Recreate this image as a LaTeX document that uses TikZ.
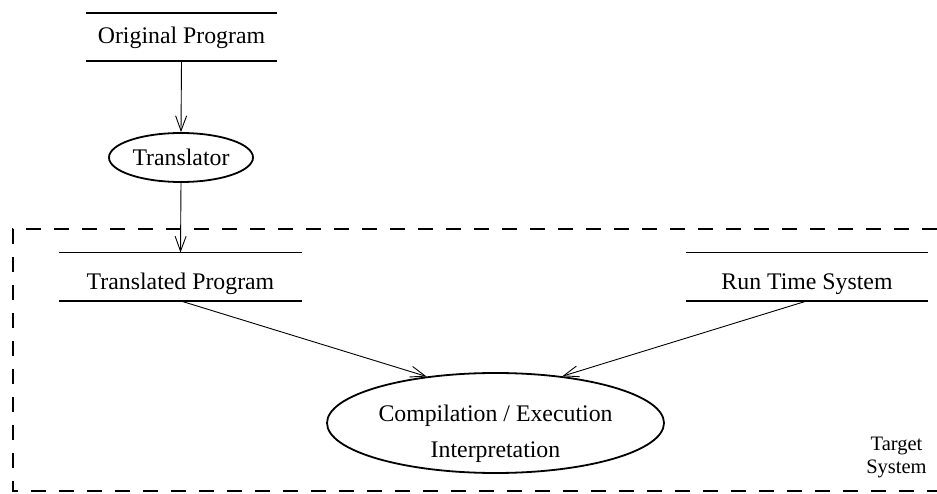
\documentclass[tikz,border=0pt]{standalone}
\usepackage{fontspec}
\setmainfont{Liberation Serif}
\usetikzlibrary{shapes.geometric,arrows.meta}
\begin{document}
\begin{tikzpicture}[x=1pt,y=-1pt,
  every node/.style={font=\fontsize{23.8}{36}\selectfont, inner sep=0pt},
  % data store: text between two horizontal bars
  store/.style={minimum height=48pt, text height=#1, text depth=0pt},
  storebar/.style={line width=1.8pt},
  process/.style={draw, ellipse, line width=1.8pt},
  flow/.style={line width=0.9pt, -{Straight Barb[length=15pt,width=11pt]}},
  boundary/.style={line width=1.8pt, dash pattern=on 15pt off 13pt},
  ]
\useasboundingbox (0,0) rectangle (937,494);

% target system boundary (open towards the right edge)
\draw[boundary] (937,229) -- (13,229) -- (13,491) -- (937,491);

% data stores
\node[store=12.2pt, minimum width=191pt] (orig) at (181.5,37.2) {Original Program};
\node[store=25.2pt, minimum width=243pt] (trans) at (180.5,276.7) {Translated Program};
\node[store=25.2pt, minimum width=242pt] (rts) at (807,276.7) {Run Time System};
\foreach \s in {orig,trans,rts}{
  \draw[storebar] (\s.north west) -- (\s.north east);
  \draw[storebar] (\s.south west) -- (\s.south east);
}

% processes
\node[process, minimum width=144pt, minimum height=49pt, text height=17pt, text depth=0pt]
  (tr) at (181,157.5) {Translator};
\node[process, minimum width=337pt, minimum height=100pt, align=center,
      text height=68pt, text depth=0pt]
  (ce) at (495.5,423) {Compilation / Execution\\Interpretation};

% label of the boundary
\node[font=\fontsize{20.5}{23}\selectfont, align=center, anchor=base] (tgt) at (896.5,473) {Target\\System};

% data flows
\draw[flow] (orig.south) -- (tr.north);
\draw[flow] (tr.south) -- (trans.north);
\draw[flow] (trans.south) -- (ce.146);
\draw[flow] (rts.south) -- (ce.35);
\end{tikzpicture}
\end{document}
